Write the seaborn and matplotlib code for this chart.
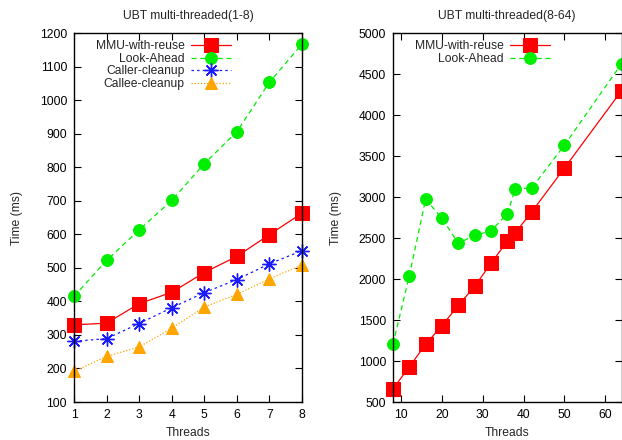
import matplotlib
matplotlib.use("Agg")
import matplotlib.pyplot as plt
import seaborn as sns
import pandas as pd

# ---- data ----
threads_a = [1, 2, 3, 4, 5, 6, 7, 8]
mmu_a = [330, 335, 393, 427, 486, 534, 599, 663]
look_a = [415, 522, 613, 701, 810, 906, 1053, 1167]
caller_a = [281, 289, 334, 381, 426, 465, 512, 551]
callee_a = [191, 236, 264, 320, 383, 421, 467, 509]

threads_b_mmu = [8, 12, 16, 20, 24, 28, 32, 36, 38, 42, 50, 64]
mmu_b = [662, 928, 1204, 1432, 1677, 1910, 2190, 2460, 2566, 2818, 3352, 4295]
threads_b_look = [8, 12, 16, 20, 24, 28, 32, 36, 38, 42, 50, 64]
look_b = [1205, 2040, 2975, 2740, 2435, 2533, 2585, 2795, 3100, 3110, 3630, 4625]

yticks_a = [100, 200, 300, 400, 500, 600, 700, 800, 900, 1000, 1100, 1200]
xticks_a = [1, 2, 3, 4, 5, 6, 7, 8]
yticks_b = [500, 1000, 1500, 2000, 2500, 3000, 3500, 4000, 4500, 5000]
xticks_b = [10, 20, 30, 40, 50, 60]

sns.set_theme(style="ticks")
plt.rcParams["font.family"] = ["Liberation Sans", "DejaVu Sans"]
FS = 8.7

fig = plt.figure(figsize=(6.22, 4.4), dpi=100)
W, H = 622, 440
ax1 = fig.add_axes([74 / W, 1 - 402 / H, (302 - 74) / W, (402 - 33) / H])
ax2 = fig.add_axes([393 / W, 1 - 402 / H, (621.5 - 393) / W, (402 - 33) / H])

styles = {
    "MMU-with-reuse": dict(color="#ff0000", marker="s", markersize=9.5, linestyle="-"),
    "Look-Ahead": dict(color="#00ee00", marker="o", markersize=8.5, linestyle=(0, (4, 3))),
    "Caller-cleanup": dict(color="#1a1aff", marker=(8, 2, 0), markersize=10, linestyle=(0, (2, 2.5)),
                           markeredgewidth=1.0),
    "Callee-cleanup": dict(color="#ffa500", marker="^", markersize=8.5, linestyle=(0, (1, 1.5))),
}

def draw(ax, x, y, name):
    st = dict(styles[name])
    col = st.pop("color")
    ls = st.pop("linestyle")
    kw = dict(markeredgecolor=col, markerfacecolor=col, linewidth=0.9, clip_on=False)
    if st["marker"] == (8, 2, 0):
        kw["markerfacecolor"] = "none"
    sns.lineplot(x=x, y=y, ax=ax, color=col, label=name, linestyle=ls, **st, **kw)

draw(ax1, threads_a, mmu_a, "MMU-with-reuse")
draw(ax1, threads_a, look_a, "Look-Ahead")
draw(ax1, threads_a, caller_a, "Caller-cleanup")
draw(ax1, threads_a, callee_a, "Callee-cleanup")

draw(ax2, threads_b_mmu, mmu_b, "MMU-with-reuse")
draw(ax2, threads_b_look, look_b, "Look-Ahead")

ax1.set_xlim(1, 8)
ax1.set_ylim(100, 1200)
ax1.set_xticks(xticks_a)
ax1.set_yticks(yticks_a)
ax2.set_xlim(8, 64)
ax2.set_ylim(500, 5000)
ax2.set_xticks(xticks_b)
ax2.set_yticks(yticks_b)

ax1.set_title("UBT multi-threaded(1-8)", fontsize=FS, pad=10)
ax2.set_title("UBT multi-threaded(8-64)", fontsize=FS, pad=10)

for ax in (ax1, ax2):
    for s in ax.spines.values():
        s.set_visible(True)
        s.set_linewidth(1.0)
        s.set_color("black")
    ax.tick_params(direction="in", length=5, width=0.8, top=True, right=True,
                   labelsize=FS, colors="black", pad=5)
    ax.set_xlabel("Threads", fontsize=FS, labelpad=4)
    ax.set_ylabel("Time (ms)", fontsize=FS, labelpad=12)
    ax.legend(loc="upper left", frameon=False, markerfirst=False, fontsize=FS,
              handlelength=3.3, handletextpad=0.55, labelspacing=0.05,
              borderaxespad=0.2, bbox_to_anchor=(0.063, 1.0))

fig.savefig("out.png", dpi=100)
